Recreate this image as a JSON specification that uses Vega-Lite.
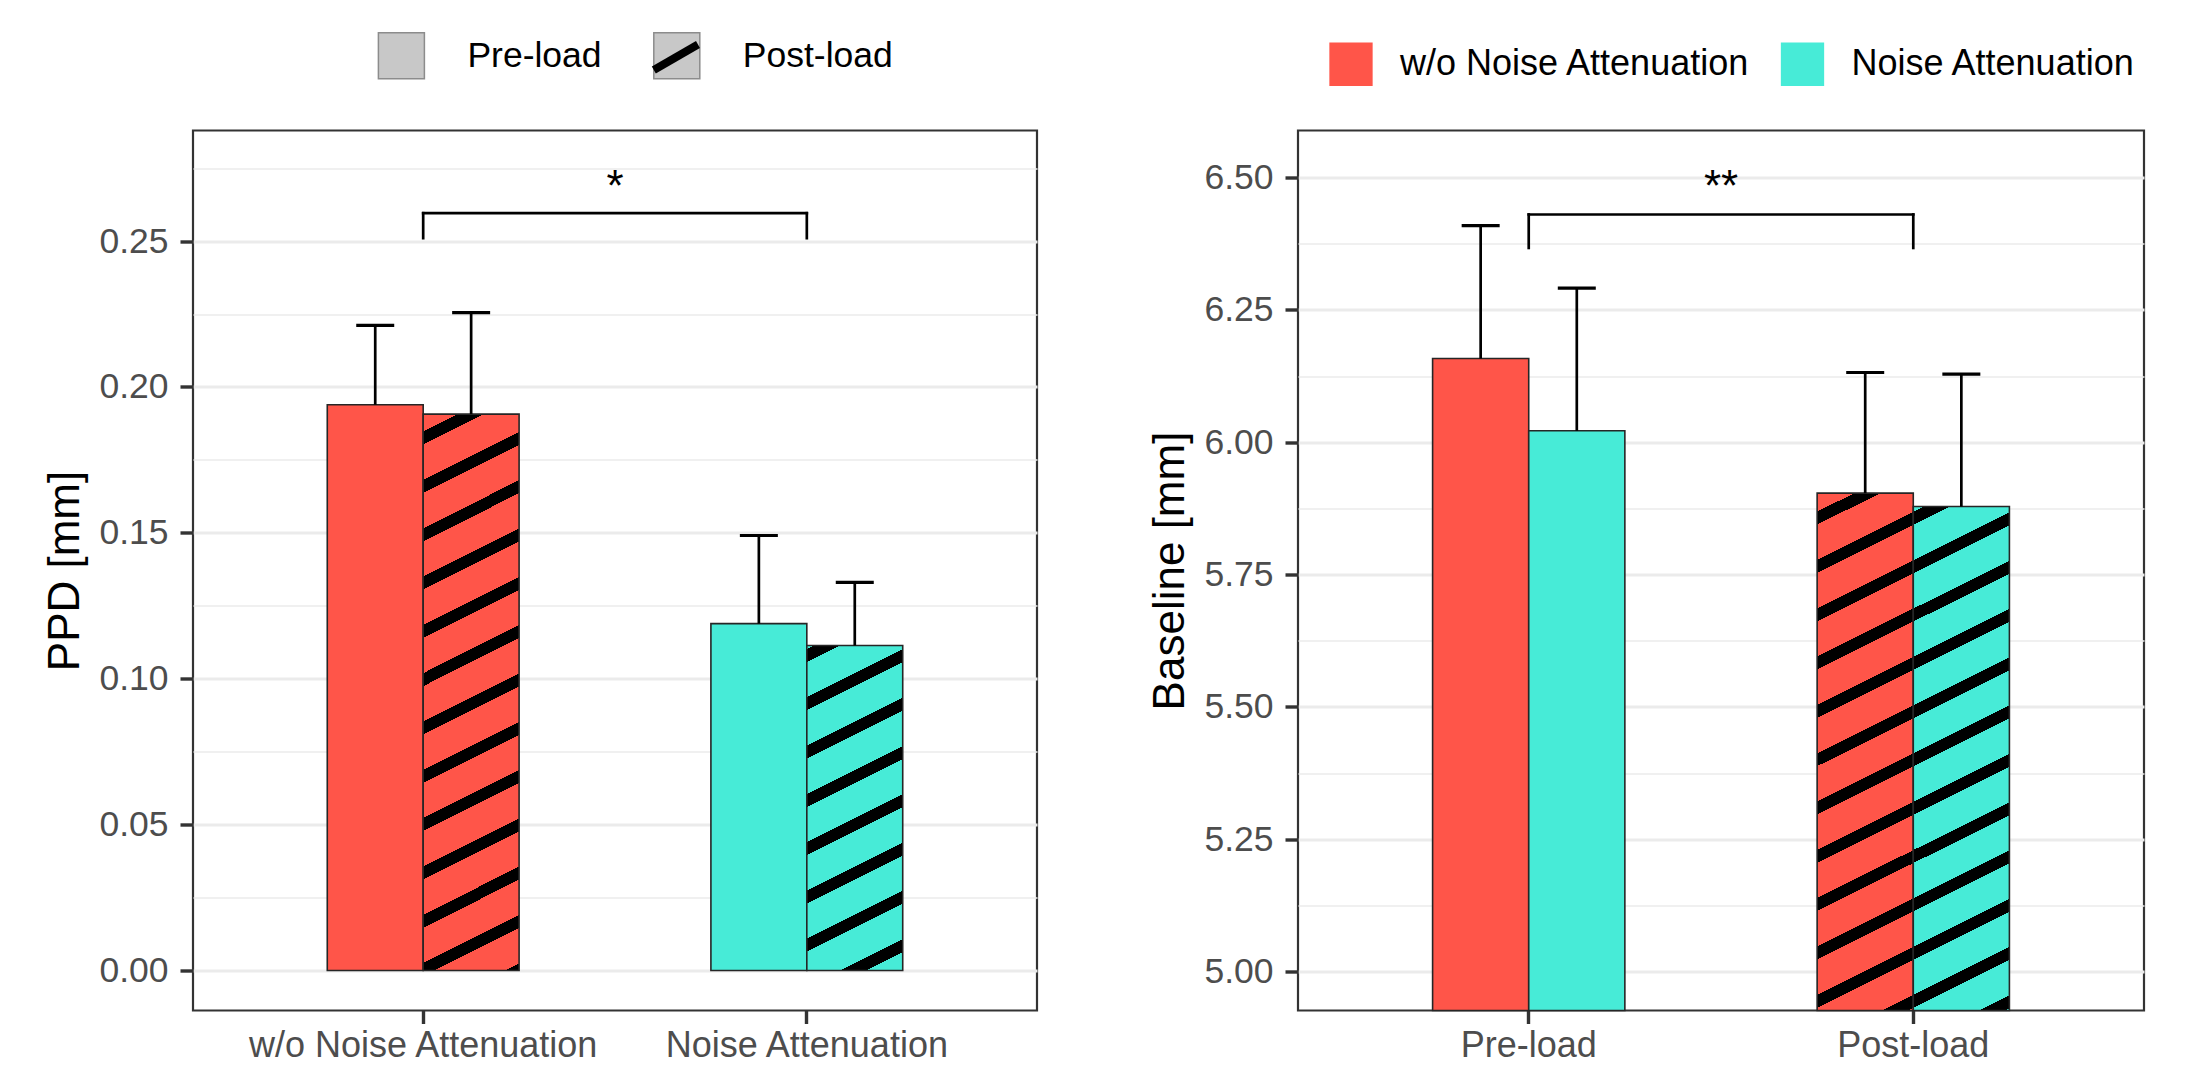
{
  "$schema": "https://vega.github.io/schema/vega-lite/v6.json",
  "background": "white",
  "padding": {"left": 42, "top": 28.5, "right": 5, "bottom": 5},
  "config": {
    "font": "Liberation Sans",
    "view": {"stroke": "#333333", "strokeWidth": 2.2},
    "axis": {"labelFont": "Liberation Sans", "titleFont": "Liberation Sans", "domain": false, "tickColor": "#333333", "tickWidth": 3.4, "tickSize": 13, "labelColor": "#4D4D4D", "titleColor": "#000000", "titleFontWeight": "normal", "gridColor": "#EBEBEB", "labelLimit": 0},
    "axisX": {"grid": false, "labelFontSize": 36, "labelPadding": 5, "labelAngle": 0},
    "axisY": {"grid": true, "labelFontSize": 35.5, "labelPadding": 12, "titleFontSize": 44, "titlePadding": 11, "labelOverlap": false},
    "legend": {"labelFont": "Liberation Sans", "labelColor": "#000000", "padding": 0, "title": null, "labelLimit": 0}
  },
  "datasets": {
    "ppd": [
      {"id": "wo_pre", "group": "w/o Noise Attenuation", "phase": "Pre-load", "mean": 0.1939, "upper": 0.2211},
      {"id": "wo_post", "group": "w/o Noise Attenuation", "phase": "Post-load", "mean": 0.1907, "upper": 0.2255},
      {"id": "na_pre", "group": "Noise Attenuation", "phase": "Pre-load", "mean": 0.1189, "upper": 0.1491},
      {"id": "na_post", "group": "Noise Attenuation", "phase": "Post-load", "mean": 0.1114, "upper": 0.1330}
    ],
    "baseline": [
      {"id": "wo_pre", "group": "w/o Noise Attenuation", "phase": "Pre-load", "mean": 6.158, "upper": 6.409},
      {"id": "na_pre", "group": "Noise Attenuation", "phase": "Pre-load", "mean": 6.0215, "upper": 6.291},
      {"id": "wo_post", "group": "w/o Noise Attenuation", "phase": "Post-load", "mean": 5.9037, "upper": 6.1317},
      {"id": "na_post", "group": "Noise Attenuation", "phase": "Post-load", "mean": 5.8785, "upper": 6.1285}
    ]
  },
  "spacing": 108,
  "resolve": {"scale": {"x": "independent", "y": "independent", "xOffset": "independent", "fill": "independent", "color": "independent", "shape": "independent"}, "legend": {"color": "independent", "fill": "independent", "shape": "independent"}},
  "hconcat": [
    {
      "width": 844,
      "height": 880,
      "layer": [
        {
          "data": {"name": "ppd"},
          "transform": [{"filter": "datum.phase === 'Pre-load'"}],
          "mark": {"type": "bar", "stroke": "#262626", "strokeWidth": 1.6},
          "encoding": {
            "x": {"field": "group", "type": "nominal", "title": null, "scale": {"domain": ["w/o Noise Attenuation", "Noise Attenuation"], "paddingInner": 0.5, "paddingOuter": 0.35}, "axis": {"title": null}},
            "xOffset": {"field": "phase", "type": "nominal", "scale": {"domain": ["Pre-load", "Post-load"], "paddingInner": 0, "paddingOuter": 0}},
            "y": {"field": "mean", "type": "quantitative", "title": "PPD [mm]", "scale": {"domain": [-0.0137, 0.2879], "nice": false, "zero": false},
              "axis": {"title": "PPD [mm]", "values": [0, 0.025, 0.05, 0.075, 0.1, 0.125, 0.15, 0.175, 0.2, 0.225, 0.25, 0.275],
                "labelExpr": "round(datum.value*1000) % 50 != 0 ? '' : format(datum.value, '.2f')",
                "gridWidth": {"condition": {"test": "round(datum.value*1000) % 50 != 0", "value": 1.7}, "value": 3},
                "tickOpacity": {"condition": {"test": "round(datum.value*1000) % 50 != 0", "value": 0}, "value": 1}}},
            "y2": {"datum": 0},
            "fill": {"field": "id", "type": "nominal", "legend": null, "scale": {"domain": ["wo_pre", "na_pre"], "range": ["#FF5549", "#47EBD7"]}}
          }
        },
        {
          "data": {"name": "ppd"},
          "transform": [{"filter": "datum.id === 'wo_post'"}],
          "mark": {"type": "bar", "stroke": "#262626", "strokeWidth": 1.6,
            "fill": {"gradient": "linear", "x1": 0, "y1": 0, "x2": 0.093145, "y2": 1.078333, "stops": [
                {"offset": 0, "color": "#FF5549"},
                {"offset": 0.02896, "color": "#FF5549"}, {"offset": 0.02896, "color": "#000000"}, {"offset": 0.05047, "color": "#000000"}, {"offset": 0.05047, "color": "#FF5549"},
                {"offset": 0.10888, "color": "#FF5549"}, {"offset": 0.10888, "color": "#000000"}, {"offset": 0.13039, "color": "#000000"}, {"offset": 0.13039, "color": "#FF5549"},
                {"offset": 0.18880, "color": "#FF5549"}, {"offset": 0.18880, "color": "#000000"}, {"offset": 0.21031, "color": "#000000"}, {"offset": 0.21031, "color": "#FF5549"},
                {"offset": 0.26872, "color": "#FF5549"}, {"offset": 0.26872, "color": "#000000"}, {"offset": 0.29023, "color": "#000000"}, {"offset": 0.29023, "color": "#FF5549"},
                {"offset": 0.34864, "color": "#FF5549"}, {"offset": 0.34864, "color": "#000000"}, {"offset": 0.37015, "color": "#000000"}, {"offset": 0.37015, "color": "#FF5549"},
                {"offset": 0.42856, "color": "#FF5549"}, {"offset": 0.42856, "color": "#000000"}, {"offset": 0.45007, "color": "#000000"}, {"offset": 0.45007, "color": "#FF5549"},
                {"offset": 0.50849, "color": "#FF5549"}, {"offset": 0.50849, "color": "#000000"}, {"offset": 0.52999, "color": "#000000"}, {"offset": 0.52999, "color": "#FF5549"},
                {"offset": 0.58841, "color": "#FF5549"}, {"offset": 0.58841, "color": "#000000"}, {"offset": 0.60991, "color": "#000000"}, {"offset": 0.60991, "color": "#FF5549"},
                {"offset": 0.66833, "color": "#FF5549"}, {"offset": 0.66833, "color": "#000000"}, {"offset": 0.68984, "color": "#000000"}, {"offset": 0.68984, "color": "#FF5549"},
                {"offset": 0.74825, "color": "#FF5549"}, {"offset": 0.74825, "color": "#000000"}, {"offset": 0.76976, "color": "#000000"}, {"offset": 0.76976, "color": "#FF5549"},
                {"offset": 0.82817, "color": "#FF5549"}, {"offset": 0.82817, "color": "#000000"}, {"offset": 0.84968, "color": "#000000"}, {"offset": 0.84968, "color": "#FF5549"},
                {"offset": 0.90809, "color": "#FF5549"}, {"offset": 0.90809, "color": "#000000"}, {"offset": 0.92960, "color": "#000000"}, {"offset": 0.92960, "color": "#FF5549"},
                {"offset": 0.98801, "color": "#FF5549"}, {"offset": 0.98801, "color": "#000000"}, {"offset": 1, "color": "#000000"}
              ]}},
          "encoding": {
            "x": {"field": "group", "type": "nominal", "title": null},
            "xOffset": {"field": "phase", "type": "nominal"},
            "y": {"field": "mean", "type": "quantitative", "title": "PPD [mm]"},
            "y2": {"datum": 0}
          }
        },
        {
          "data": {"name": "ppd"},
          "transform": [{"filter": "datum.id === 'na_post'"}],
          "mark": {"type": "bar", "stroke": "#262626", "strokeWidth": 1.6,
            "fill": {"gradient": "linear", "x1": 0, "y1": 0, "x2": 0.165886, "y2": 1.123192, "stops": [
                {"offset": 0, "color": "#47EBD7"},
                {"offset": 0.009383, "color": "#47EBD7"}, {"offset": 0.009383, "color": "#000000"}, {"offset": 0.044236, "color": "#000000"}, {"offset": 0.044236, "color": "#47EBD7"},
                {"offset": 0.138874, "color": "#47EBD7"}, {"offset": 0.138874, "color": "#000000"}, {"offset": 0.173727, "color": "#000000"}, {"offset": 0.173727, "color": "#47EBD7"},
                {"offset": 0.268365, "color": "#47EBD7"}, {"offset": 0.268365, "color": "#000000"}, {"offset": 0.303218, "color": "#000000"}, {"offset": 0.303218, "color": "#47EBD7"},
                {"offset": 0.397856, "color": "#47EBD7"}, {"offset": 0.397856, "color": "#000000"}, {"offset": 0.432709, "color": "#000000"}, {"offset": 0.432709, "color": "#47EBD7"},
                {"offset": 0.527347, "color": "#47EBD7"}, {"offset": 0.527347, "color": "#000000"}, {"offset": 0.562200, "color": "#000000"}, {"offset": 0.562200, "color": "#47EBD7"},
                {"offset": 0.656838, "color": "#47EBD7"}, {"offset": 0.656838, "color": "#000000"}, {"offset": 0.691691, "color": "#000000"}, {"offset": 0.691691, "color": "#47EBD7"},
                {"offset": 0.786329, "color": "#47EBD7"}, {"offset": 0.786329, "color": "#000000"}, {"offset": 0.821182, "color": "#000000"}, {"offset": 0.821182, "color": "#47EBD7"},
                {"offset": 0.915820, "color": "#47EBD7"}, {"offset": 0.915820, "color": "#000000"}, {"offset": 0.950673, "color": "#000000"}, {"offset": 0.950673, "color": "#47EBD7"},
                {"offset": 1, "color": "#47EBD7"}
              ]}},
          "encoding": {
            "x": {"field": "group", "type": "nominal", "title": null},
            "xOffset": {"field": "phase", "type": "nominal"},
            "y": {"field": "mean", "type": "quantitative", "title": "PPD [mm]"},
            "y2": {"datum": 0}
          }
        },
        {
          "data": {"name": "ppd"},
          "mark": {"type": "rule", "strokeWidth": 2.7, "color": "#000000"},
          "encoding": {
            "x": {"field": "group", "type": "nominal", "title": null},
            "xOffset": {"field": "phase", "type": "nominal"},
            "y": {"field": "mean", "type": "quantitative", "title": "PPD [mm]"},
            "y2": {"field": "upper"}
          }
        },
        {
          "data": {"name": "ppd"},
          "mark": {"type": "tick", "orient": "horizontal", "size": 38, "thickness": 3.2, "color": "#000000", "opacity": 1},
          "encoding": {
            "x": {"field": "group", "type": "nominal", "title": null},
            "xOffset": {"field": "phase", "type": "nominal"},
            "y": {"field": "upper", "type": "quantitative", "title": "PPD [mm]"}
          }
        },
        {
          "data": {"name": "ppd"},
          "transform": [{"filter": "false"}],
          "mark": {"type": "square", "filled": true, "opacity": 1, "stroke": "#8C8C8C", "strokeWidth": 1.5},
          "encoding": {
            "color": {"field": "phase", "type": "nominal", "scale": {"domain": ["Pre-load", "Post-load"], "range": ["#C8C8C8", "#C8C8C8"]},
              "legend": {"orient": "none", "legendX": 184.4, "legendY": -98.8, "direction": "horizontal", "title": null, "symbolType": "square", "symbolSize": 2116, "symbolStrokeColor": "#8C8C8C", "symbolStrokeWidth": 1.5, "symbolOpacity": 1, "labelFontSize": 35.5, "labelOffset": 42, "columnPadding": 48.4}}
          }
        },
        {
          "data": {"name": "ppd"},
          "transform": [{"filter": "false"}],
          "mark": {"type": "point", "filled": false, "opacity": 1, "color": "#000000", "strokeWidth": 8},
          "encoding": {
            "shape": {"field": "phase", "type": "nominal", "scale": {"domain": ["Post-load"], "range": ["M-0.96,0.554L0.96,-0.554"]},
              "legend": {"orient": "none", "legendX": 455.9, "legendY": -100.3, "direction": "horizontal", "title": null, "symbolSize": 2116, "symbolStrokeColor": "#000000", "symbolStrokeWidth": 8, "symbolFillColor": "transparent", "symbolOpacity": 1, "labelExpr": "''", "labelOffset": 0}}
          }
        },
        {
          "data": {"values": [{"from": "w/o Noise Attenuation", "to": "Noise Attenuation", "label": "*"}]},
          "layer": [
            {
              "mark": {"type": "rule", "strokeWidth": 2.7, "color": "#000000", "strokeCap": "square"},
              "encoding": {
                "x": {"field": "from", "type": "nominal", "bandPosition": 0.5, "title": null},
                "x2": {"field": "to", "bandPosition": 0.5},
                "y": {"datum": 0.25956, "type": "quantitative", "title": "PPD [mm]"}
              }
            },
            {
              "mark": {"type": "rule", "strokeWidth": 2.7, "color": "#000000", "strokeCap": "square"},
              "encoding": {
                "x": {"field": "from", "type": "nominal", "title": null},
                "y": {"datum": 0.2510, "type": "quantitative", "title": "PPD [mm]"},
                "y2": {"datum": 0.25956}
              }
            },
            {
              "mark": {"type": "rule", "strokeWidth": 2.7, "color": "#000000", "strokeCap": "square"},
              "encoding": {
                "x": {"field": "to", "type": "nominal", "title": null},
                "y": {"datum": 0.2510, "type": "quantitative", "title": "PPD [mm]"},
                "y2": {"datum": 0.25956}
              }
            },
            {
              "mark": {"type": "text", "fontSize": 44, "baseline": "alphabetic", "align": "center", "color": "#000000", "font": "Liberation Sans"},
              "encoding": {
                "x": {"field": "from", "type": "nominal", "bandPosition": 1.5, "title": null},
                "y": {"datum": 0.2637, "type": "quantitative", "title": "PPD [mm]"},
                "text": {"field": "label"}
              }
            }
          ]
        }
      ]
    },
    {
      "width": 846,
      "height": 880,
      "layer": [
        {
          "data": {"name": "baseline"},
          "transform": [{"filter": "datum.phase === 'Pre-load'"}],
          "mark": {"type": "bar", "stroke": "#262626", "strokeWidth": 1.6},
          "encoding": {
            "x": {"field": "phase", "type": "nominal", "title": null, "scale": {"domain": ["Pre-load", "Post-load"], "paddingInner": 0.5, "paddingOuter": 0.35}, "axis": {"title": null}},
            "xOffset": {"field": "group", "type": "nominal", "scale": {"domain": ["w/o Noise Attenuation", "Noise Attenuation"], "paddingInner": 0, "paddingOuter": 0}},
            "y": {"field": "mean", "type": "quantitative", "title": "Baseline [mm]", "scale": {"domain": [4.9263, 6.5889], "nice": false, "zero": false},
              "axis": {"title": "Baseline [mm]", "values": [5, 5.125, 5.25, 5.375, 5.5, 5.625, 5.75, 5.875, 6, 6.125, 6.25, 6.375, 6.5],
                "labelExpr": "round(datum.value*1000) % 250 != 0 ? '' : format(datum.value, '.2f')",
                "gridWidth": {"condition": {"test": "round(datum.value*1000) % 250 != 0", "value": 1.7}, "value": 3},
                "tickOpacity": {"condition": {"test": "round(datum.value*1000) % 250 != 0", "value": 0}, "value": 1}}},
            "y2": {"datum": 4.9263},
            "fill": {"field": "id", "type": "nominal", "legend": null, "scale": {"domain": ["wo_pre", "na_pre"], "range": ["#FF5549", "#47EBD7"]}}
          }
        },
        {
          "data": {"name": "baseline"},
          "transform": [{"filter": "datum.id === 'wo_post'"}],
          "mark": {"type": "bar", "stroke": "#262626", "strokeWidth": 1.6,
            "fill": {"gradient": "linear", "x1": 0, "y1": 0, "x2": 0.100472, "y2": 1.083421, "stops": [
                {"offset": 0, "color": "#FF5549"},
                {"offset": 0.032709, "color": "#FF5549"}, {"offset": 0.032709, "color": "#000000"}, {"offset": 0.055693, "color": "#000000"}, {"offset": 0.055693, "color": "#FF5549"},
                {"offset": 0.118158, "color": "#FF5549"}, {"offset": 0.118158, "color": "#000000"}, {"offset": 0.141142, "color": "#000000"}, {"offset": 0.141142, "color": "#FF5549"},
                {"offset": 0.203607, "color": "#FF5549"}, {"offset": 0.203607, "color": "#000000"}, {"offset": 0.226591, "color": "#000000"}, {"offset": 0.226591, "color": "#FF5549"},
                {"offset": 0.289056, "color": "#FF5549"}, {"offset": 0.289056, "color": "#000000"}, {"offset": 0.312040, "color": "#000000"}, {"offset": 0.312040, "color": "#FF5549"},
                {"offset": 0.374505, "color": "#FF5549"}, {"offset": 0.374505, "color": "#000000"}, {"offset": 0.397489, "color": "#000000"}, {"offset": 0.397489, "color": "#FF5549"},
                {"offset": 0.459954, "color": "#FF5549"}, {"offset": 0.459954, "color": "#000000"}, {"offset": 0.482938, "color": "#000000"}, {"offset": 0.482938, "color": "#FF5549"},
                {"offset": 0.545403, "color": "#FF5549"}, {"offset": 0.545403, "color": "#000000"}, {"offset": 0.568387, "color": "#000000"}, {"offset": 0.568387, "color": "#FF5549"},
                {"offset": 0.630852, "color": "#FF5549"}, {"offset": 0.630852, "color": "#000000"}, {"offset": 0.653836, "color": "#000000"}, {"offset": 0.653836, "color": "#FF5549"},
                {"offset": 0.716301, "color": "#FF5549"}, {"offset": 0.716301, "color": "#000000"}, {"offset": 0.739285, "color": "#000000"}, {"offset": 0.739285, "color": "#FF5549"},
                {"offset": 0.801750, "color": "#FF5549"}, {"offset": 0.801750, "color": "#000000"}, {"offset": 0.824734, "color": "#000000"}, {"offset": 0.824734, "color": "#FF5549"},
                {"offset": 0.887199, "color": "#FF5549"}, {"offset": 0.887199, "color": "#000000"}, {"offset": 0.910183, "color": "#000000"}, {"offset": 0.910183, "color": "#FF5549"},
                {"offset": 0.972648, "color": "#FF5549"}, {"offset": 0.972648, "color": "#000000"}, {"offset": 0.995632, "color": "#000000"}, {"offset": 0.995632, "color": "#FF5549"},
                {"offset": 1, "color": "#FF5549"}
              ]}},
          "encoding": {
            "x": {"field": "phase", "type": "nominal", "title": null},
            "xOffset": {"field": "group", "type": "nominal"},
            "y": {"field": "mean", "type": "quantitative", "title": "Baseline [mm]"},
            "y2": {"datum": 4.9263}
          }
        },
        {
          "data": {"name": "baseline"},
          "transform": [{"filter": "datum.id === 'na_post'"}],
          "mark": {"type": "bar", "stroke": "#262626", "strokeWidth": 1.6,
            "fill": {"gradient": "linear", "x1": 0, "y1": 0, "x2": 0.103306, "y2": 1.085349, "stops": [
                {"offset": 0, "color": "#47EBD7"},
                {"offset": 0.009958, "color": "#47EBD7"}, {"offset": 0.009958, "color": "#000000"}, {"offset": 0.033496, "color": "#000000"}, {"offset": 0.033496, "color": "#47EBD7"},
                {"offset": 0.097465, "color": "#47EBD7"}, {"offset": 0.097465, "color": "#000000"}, {"offset": 0.121003, "color": "#000000"}, {"offset": 0.121003, "color": "#47EBD7"},
                {"offset": 0.184972, "color": "#47EBD7"}, {"offset": 0.184972, "color": "#000000"}, {"offset": 0.208510, "color": "#000000"}, {"offset": 0.208510, "color": "#47EBD7"},
                {"offset": 0.272479, "color": "#47EBD7"}, {"offset": 0.272479, "color": "#000000"}, {"offset": 0.296017, "color": "#000000"}, {"offset": 0.296017, "color": "#47EBD7"},
                {"offset": 0.359986, "color": "#47EBD7"}, {"offset": 0.359986, "color": "#000000"}, {"offset": 0.383524, "color": "#000000"}, {"offset": 0.383524, "color": "#47EBD7"},
                {"offset": 0.447493, "color": "#47EBD7"}, {"offset": 0.447493, "color": "#000000"}, {"offset": 0.471031, "color": "#000000"}, {"offset": 0.471031, "color": "#47EBD7"},
                {"offset": 0.535000, "color": "#47EBD7"}, {"offset": 0.535000, "color": "#000000"}, {"offset": 0.558538, "color": "#000000"}, {"offset": 0.558538, "color": "#47EBD7"},
                {"offset": 0.622507, "color": "#47EBD7"}, {"offset": 0.622507, "color": "#000000"}, {"offset": 0.646045, "color": "#000000"}, {"offset": 0.646045, "color": "#47EBD7"},
                {"offset": 0.710014, "color": "#47EBD7"}, {"offset": 0.710014, "color": "#000000"}, {"offset": 0.733552, "color": "#000000"}, {"offset": 0.733552, "color": "#47EBD7"},
                {"offset": 0.797521, "color": "#47EBD7"}, {"offset": 0.797521, "color": "#000000"}, {"offset": 0.821059, "color": "#000000"}, {"offset": 0.821059, "color": "#47EBD7"},
                {"offset": 0.885028, "color": "#47EBD7"}, {"offset": 0.885028, "color": "#000000"}, {"offset": 0.908566, "color": "#000000"}, {"offset": 0.908566, "color": "#47EBD7"},
                {"offset": 0.972535, "color": "#47EBD7"}, {"offset": 0.972535, "color": "#000000"}, {"offset": 0.996073, "color": "#000000"}, {"offset": 0.996073, "color": "#47EBD7"},
                {"offset": 1, "color": "#47EBD7"}
              ]}},
          "encoding": {
            "x": {"field": "phase", "type": "nominal", "title": null},
            "xOffset": {"field": "group", "type": "nominal"},
            "y": {"field": "mean", "type": "quantitative", "title": "Baseline [mm]"},
            "y2": {"datum": 4.9263}
          }
        },
        {
          "data": {"name": "baseline"},
          "mark": {"type": "rule", "strokeWidth": 2.7, "color": "#000000"},
          "encoding": {
            "x": {"field": "phase", "type": "nominal", "title": null},
            "xOffset": {"field": "group", "type": "nominal"},
            "y": {"field": "mean", "type": "quantitative", "title": "Baseline [mm]"},
            "y2": {"field": "upper"}
          }
        },
        {
          "data": {"name": "baseline"},
          "mark": {"type": "tick", "orient": "horizontal", "size": 38, "thickness": 3.2, "color": "#000000", "opacity": 1},
          "encoding": {
            "x": {"field": "phase", "type": "nominal", "title": null},
            "xOffset": {"field": "group", "type": "nominal"},
            "y": {"field": "upper", "type": "quantitative", "title": "Baseline [mm]"}
          }
        },
        {
          "data": {"name": "baseline"},
          "transform": [{"filter": "false"}],
          "mark": {"type": "square", "filled": true, "opacity": 1, "strokeWidth": 0},
          "encoding": {
            "color": {"field": "group", "type": "nominal", "scale": {"domain": ["w/o Noise Attenuation", "Noise Attenuation"], "range": ["#FF5549", "#47EBD7"]},
              "legend": {"orient": "none", "legendX": 31, "legendY": -88.4, "direction": "horizontal", "title": null, "symbolType": "square", "symbolSize": 1875, "symbolStrokeWidth": 0, "symbolOpacity": 1, "labelFontSize": 36, "labelOffset": 27, "columnPadding": 29.5}}
          }
        },
        {
          "data": {"values": [{"from": "Pre-load", "to": "Post-load", "label": "**"}]},
          "layer": [
            {
              "mark": {"type": "rule", "strokeWidth": 2.7, "color": "#000000", "strokeCap": "square"},
              "encoding": {
                "x": {"field": "from", "type": "nominal", "bandPosition": 0.5, "title": null},
                "x2": {"field": "to", "bandPosition": 0.5},
                "y": {"datum": 6.4302, "type": "quantitative", "title": "Baseline [mm]"}
              }
            },
            {
              "mark": {"type": "rule", "strokeWidth": 2.7, "color": "#000000", "strokeCap": "square"},
              "encoding": {
                "x": {"field": "from", "type": "nominal", "title": null},
                "y": {"datum": 6.367, "type": "quantitative", "title": "Baseline [mm]"},
                "y2": {"datum": 6.4302}
              }
            },
            {
              "mark": {"type": "rule", "strokeWidth": 2.7, "color": "#000000", "strokeCap": "square"},
              "encoding": {
                "x": {"field": "to", "type": "nominal", "title": null},
                "y": {"datum": 6.367, "type": "quantitative", "title": "Baseline [mm]"},
                "y2": {"datum": 6.4302}
              }
            },
            {
              "mark": {"type": "text", "fontSize": 44, "baseline": "alphabetic", "align": "center", "color": "#000000", "font": "Liberation Sans"},
              "encoding": {
                "x": {"field": "from", "type": "nominal", "bandPosition": 1.5, "title": null},
                "y": {"datum": 6.4563, "type": "quantitative", "title": "Baseline [mm]"},
                "text": {"field": "label"}
              }
            }
          ]
        }
      ]
    }
  ]
}
